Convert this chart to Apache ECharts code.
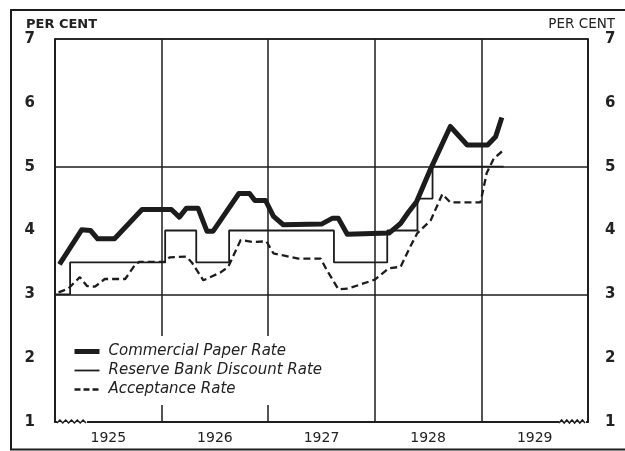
<!DOCTYPE html>
<html>
<head>
<meta charset="utf-8">
<script src="https://cdn.jsdelivr.net/npm/echarts@6/dist/echarts.min.js"></script>
<style>
html,body{margin:0;padding:0;background:#fff;}
#chart{width:625px;height:451px;}
</style>
</head>
<body>
<div id="chart"></div>
<script>
// ---- data (months counted from 1 Jan 1925) ----
const years = ['1925', '1926', '1927', '1928', '1929'];
const yTickMin = 1, yTickMax = 7;
const commercialPaper = [[0.5,3.47],[3,4.01],[4,4.0],[4.8,3.87],[6.7,3.87],[9.8,4.33],[13.1,4.33],[14,4.21],[14.8,4.35],[16.1,4.35],[17.1,3.99],[17.8,3.99],[20.7,4.58],[21.9,4.58],[22.5,4.47],[23.7,4.47],[24.6,4.22],[25.7,4.09],[30,4.1],[31.2,4.19],[31.9,4.19],[32.9,3.94],[37.6,3.96],[38.9,4.11],[39.8,4.29],[40.7,4.45],[42.3,4.97],[44.5,5.63],[46.4,5.34],[48.7,5.34],[49.6,5.47],[50.3,5.77]];
const discountRate = [[0,3.0],[1.7,3.5],[12.4,4.0],[15.9,3.5],[19.6,4.0],[31.4,3.5],[37.4,4.0],[40.8,4.5],[42.5,5.0],[50.5,5.0]];
const acceptanceRate = [[0.4,3.03],[1.5,3.09],[2.8,3.27],[3.6,3.13],[4.5,3.12],[5.6,3.24],[7.9,3.24],[9.0,3.46],[9.5,3.51],[12.4,3.51],[12.9,3.58],[14.8,3.59],[15.4,3.5],[16.7,3.22],[18.6,3.34],[19.5,3.43],[20.9,3.85],[22.3,3.82],[23.8,3.83],[24.6,3.64],[25.7,3.61],[27.4,3.56],[29.9,3.56],[30.6,3.38],[31.9,3.08],[33.0,3.09],[36.0,3.23],[37.6,3.41],[38.9,3.43],[40.0,3.75],[40.8,3.96],[42.3,4.16],[43.6,4.57],[44.5,4.44],[47.9,4.44],[48.6,4.9],[49.4,5.13],[50.5,5.26]];
const seriesNames = ['Commercial Paper Rate', 'Reserve Bank Discount Rate', 'Acceptance Rate'];

const INK = '#1c1c1c';
const chart = echarts.init(document.getElementById('chart'), null, {renderer: 'canvas'});

// decorative axis-break waves
function wave(x0, x1, y) {
  const pts = [];
  const n = 5, step = (x1 - x0) / n;
  for (let i = 0; i <= n * 2; i++) {
    pts.push([x0 + i * step / 2, y + (i % 2 ? -2 : 1)]);
  }
  return pts;
}

chart.setOption({
  backgroundColor: '#fff',
  animation: false,
  grid: {left: 55, right: 37, top: 39, bottom: 29, show: true, borderColor: INK, borderWidth: 1.5,
         backgroundColor: 'transparent', containLabel: false, outerBoundsMode: 'none'},
  legend: {
    orient: 'vertical', left: 66, top: 336,
    data: [
      {name: seriesNames[0], lineStyle: {width: 5, color: INK}},
      {name: seriesNames[1], lineStyle: {width: 1.8, color: INK}},
      {name: seriesNames[2], lineStyle: {width: 2.3, color: INK, type: [6, 3]}}
    ],
    itemWidth: 25, itemHeight: 14, itemGap: 4,
    backgroundColor: '#fff', padding: [8, 6, 8, 6],
    itemStyle: {opacity: 0},
    textStyle: {fontFamily: 'DejaVu Sans', fontStyle: 'italic', fontSize: 15, color: '#222', padding: [0, 0, 0, 4]}
  },
  xAxis: [
    {type: 'category', data: years, boundaryGap: true, gridIndex: 0,
     axisLine: {show: true, lineStyle: {color: INK, width: 1.5}},
     axisTick: {show: false},
     axisLabel: {fontFamily: 'DejaVu Sans', fontSize: 14, color: '#222', margin: 9},
     splitLine: {show: true, lineStyle: {color: INK, width: 1.5}}},
    {type: 'value', min: 0, max: 60, show: false}
  ],
  yAxis: [
    {type: 'value', min: yTickMin, max: yTickMax, interval: 1, position: 'left',
     name: 'PER CENT', nameLocation: 'end', nameGap: 7,
     nameTextStyle: {fontFamily: 'DejaVu Sans', fontWeight: 'bold', fontSize: 13, color: '#222', align: 'left', padding: [0, 0, 0, -29]},
     axisLine: {show: true, lineStyle: {color: INK, width: 1.5}}, axisTick: {show: false},
     axisLabel: {fontFamily: 'DejaVu Sans', fontWeight: 'bold', fontSize: 15, color: '#222', margin: 20},
     splitLine: {show: false}},
    {type: 'value', min: yTickMin, max: yTickMax, interval: 1, position: 'right',
     name: 'PER CENT', nameLocation: 'end', nameGap: 7,
     nameTextStyle: {fontFamily: 'DejaVu Sans', fontSize: 13.5, color: '#222', align: 'right', padding: [0, -27, 0, 0]},
     axisLine: {show: true, lineStyle: {color: INK, width: 1.5}}, axisTick: {show: false},
     axisLabel: {fontFamily: 'DejaVu Sans', fontWeight: 'bold', fontSize: 15, color: '#222', margin: 17},
     splitLine: {show: false}},
    {type: 'value', min: yTickMin, max: yTickMax, interval: 2, position: 'left',
     axisLine: {show: false}, axisTick: {show: false}, axisLabel: {show: false},
     splitLine: {show: true, lineStyle: {color: INK, width: 1.5}}}
  ],
  series: [
    {name: seriesNames[0], type: 'line', xAxisIndex: 1, yAxisIndex: 0, data: commercialPaper,
     symbol: 'none', showSymbol: false, z: 5,
     lineStyle: {color: INK, width: 5, join: 'round'}, itemStyle: {color: INK}},
    {name: seriesNames[1], type: 'line', xAxisIndex: 1, yAxisIndex: 0, data: discountRate,
     step: 'end', symbol: 'none', showSymbol: false, z: 4,
     lineStyle: {color: INK, width: 1.8}, itemStyle: {color: INK}},
    {name: seriesNames[2], type: 'line', xAxisIndex: 1, yAxisIndex: 0, data: acceptanceRate,
     symbol: 'none', showSymbol: false, z: 3,
     lineStyle: {color: INK, width: 2.3, type: [7, 4]}, itemStyle: {color: INK}}
  ],
  graphic: [
    {type: 'rect', shape: {x: 11, y: 10, width: 640, height: 439.5}, style: {fill: 'none', stroke: INK, lineWidth: 2}, z: 100, silent: true},
    {type: 'rect', shape: {x: 57, y: 418, width: 30, height: 8}, style: {fill: '#fff'}, z: 100, silent: true},
    {type: 'polyline', shape: {points: wave(57, 86, 422)}, style: {fill: 'none', stroke: INK, lineWidth: 1.5}, z: 101, silent: true},
    {type: 'rect', shape: {x: 559, y: 418, width: 27, height: 8}, style: {fill: '#fff'}, z: 100, silent: true},
    {type: 'polyline', shape: {points: wave(559, 585, 422)}, style: {fill: 'none', stroke: INK, lineWidth: 1.5}, z: 101, silent: true}
  ]
});
</script>
</body>
</html>
